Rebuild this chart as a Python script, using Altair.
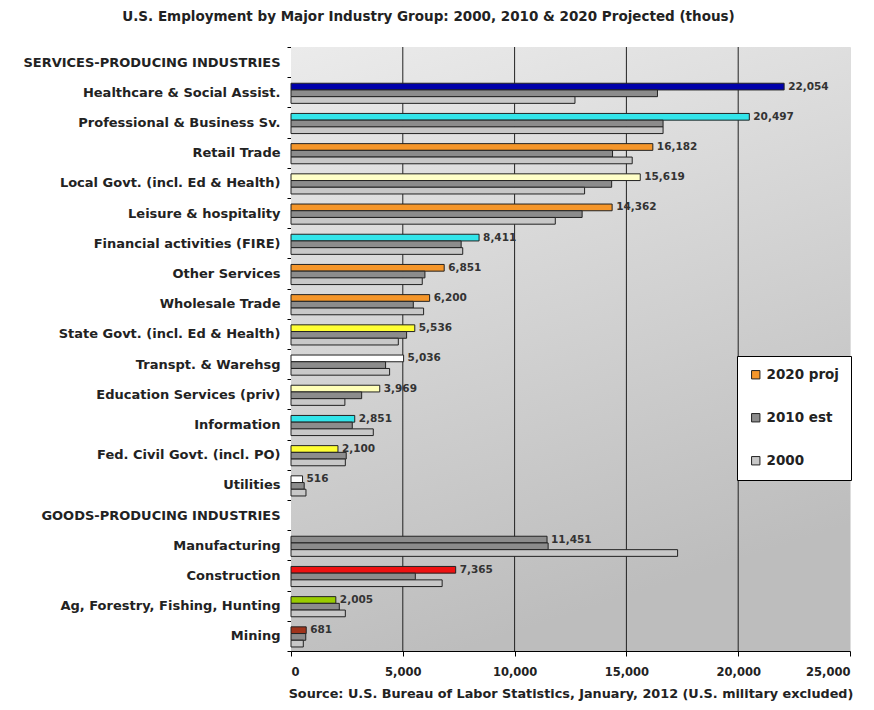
import altair as alt
import pandas as pd

rows = [
    "SERVICES-PRODUCING INDUSTRIES",
    "Healthcare & Social Assist.",
    "Professional & Business Sv.",
    "Retail Trade",
    "Local Govt. (incl. Ed & Health)",
    "Leisure & hospitality",
    "Financial activities (FIRE)",
    "Other Services",
    "Wholesale Trade",
    "State Govt. (incl. Ed & Health)",
    "Transpt. & Warehsg",
    "Education Services (priv)",
    "Information",
    "Fed. Civil Govt. (incl. PO)",
    "Utilities",
    "GOODS-PRODUCING INDUSTRIES",
    "Manufacturing",
    "Construction",
    "Ag, Forestry, Fishing, Hunting",
    "Mining",
]

industries = [r for r in rows if not r.endswith("INDUSTRIES")]

v2020 = [22054, 20497, 16182, 15619, 14362, 8411, 6851, 6200, 5536, 5036,
         3969, 2851, 2100, 516, 11451, 7365, 2005, 681]
v2010 = [16390, 16640, 14380, 14340, 13020, 7610, 5990, 5470, 5170, 4230,
         3160, 2740, 2470, 590, 11500, 5560, 2160, 660]
v2000 = [12700, 16640, 15260, 13130, 11820, 7680, 5870, 5930, 4800, 4410,
         2410, 3680, 2430, 670, 17290, 6760, 2430, 550]

colors2020 = ["#0000aa", "#33e5ea", "#f5962a", "#ffffc8", "#f5962a", "#33e5ea",
              "#f5962a", "#f5962a", "#ffff33", "#ffffff", "#ffffb8", "#33e5ea",
              "#ffff33", "#ffffff", "#8c8c8c", "#ee1111", "#99cc00", "#a0341c"]

series = ["2020 proj", "2010 est", "2000"]
legend_colors = ["#f5962a", "#8c8c8c", "#c8c8c8"]

x_ticks = [0, 5000, 10000, 15000, 20000, 25000]
grid_values = [5000, 10000, 15000, 20000]

recs = []
for i, ind in enumerate(industries):
    recs.append({"industry": ind, "series": series[0], "value": v2020[i], "fillcol": colors2020[i]})
    recs.append({"industry": ind, "series": series[1], "value": v2010[i], "fillcol": legend_colors[1]})
    recs.append({"industry": ind, "series": series[2], "value": v2000[i], "fillcol": legend_colors[2]})
df = pd.DataFrame(recs)
df20 = df[df.series == series[0]]
grid_df = pd.DataFrame({"value": grid_values})

FONT = "DejaVu Sans"
W, H = 559, 604

y_enc = alt.Y("industry:N",
              scale=alt.Scale(domain=rows, paddingInner=0, paddingOuter=0),
              axis=alt.Axis(title=None, tickBand="extent", labelFont=FONT,
                            labelFontSize=13, labelFontWeight="bold",
                            labelColor="#222", tickSize=4, labelPadding=7,
                            domainColor="#000", tickColor="#000", grid=False,
                            labelLimit=320))
yoff = alt.YOffset("series:N",
                   scale=alt.Scale(domain=series, paddingInner=0, paddingOuter=0.75, align=0.6))
x_enc = alt.X("value:Q",
              scale=alt.Scale(domain=[0, 25000], nice=False),
              axis=alt.Axis(title="Source: U.S. Bureau of Labor Statistics, January, 2012 (U.S. military excluded)",
                            values=x_ticks, labelExpr="format(datum.value, ',')",
                            labelFont=FONT, labelFontSize=11.5, labelFontWeight="bold",
                            labelColor="#222", labelPadding=10, tickSize=5,
                            titleFont=FONT, titleFontSize=12.8, titleFontWeight="bold",
                            titleColor="#222", titlePadding=10,
                            grid=False,
                            domainColor="#000", tickColor="#000"))

bg = alt.Chart(df20).mark_rect(
    color=alt.LinearGradient(gradient="linear",
                             stops=[alt.GradientStop(color="#ebebeb", offset=0),
                                    alt.GradientStop(color="#bdbdbd", offset=1)],
                             x1=0, x2=0.3, y1=0, y2=1)
).encode(x=alt.value(0), x2=alt.value(W), y=alt.value(0), y2=alt.value(H))

grid = alt.Chart(grid_df).mark_rule(color="#222", strokeWidth=1).encode(
    x=x_enc, y=alt.value(0), y2=alt.value(H))

bars = alt.Chart(df).mark_bar(stroke="#222", strokeWidth=1).encode(
    x=x_enc, y=y_enc, yOffset=yoff,
    fill=alt.Fill("fillcol:N", scale=None),
)

labels = alt.Chart(df20).mark_text(align="left", baseline="middle", dx=4,
                                   font=FONT, fontSize=10.5, fontWeight="bold",
                                   color="#333").encode(
    x=x_enc, y=y_enc, yOffset=yoff,
    text=alt.Text("value:Q", format=","),
)

legend_layer = alt.Chart(df).mark_square(opacity=0).encode(
    x=x_enc, y=y_enc, yOffset=yoff,
    color=alt.Color("series:N",
                    scale=alt.Scale(domain=series, range=legend_colors),
                    legend=alt.Legend(title=None, orient="none", legendX=446, legendY=309,
                                      fillColor="#ffffff", strokeColor="#000",
                                      padding=12, rowPadding=28,
                                      symbolType="square", symbolSize=70,
                                      symbolOpacity=1, symbolStrokeColor="#222",
                                      symbolStrokeWidth=1,
                                      labelFont=FONT, labelFontSize=13.5,
                                      labelFontWeight="bold", labelColor="#222")),
)

chart = alt.layer(bg, grid, bars, labels, legend_layer).properties(
    width=W, height=H,
    title=alt.TitleParams(
        "U.S. Employment by Major Industry Group: 2000, 2010 & 2020 Projected (thous)",
        font=FONT, fontSize=13.5, fontWeight="bold", color="#222",
        anchor="middle", dx=-142, offset=18),
    autosize=alt.AutoSizeParams(type="none"),
    padding={"left": 291, "top": 47, "right": 24, "bottom": 59},
).configure_view(
    stroke="#808080",
).configure(background="#ffffff")

chart.save("out.html", embed_options={"renderer": "svg", "actions": False})
